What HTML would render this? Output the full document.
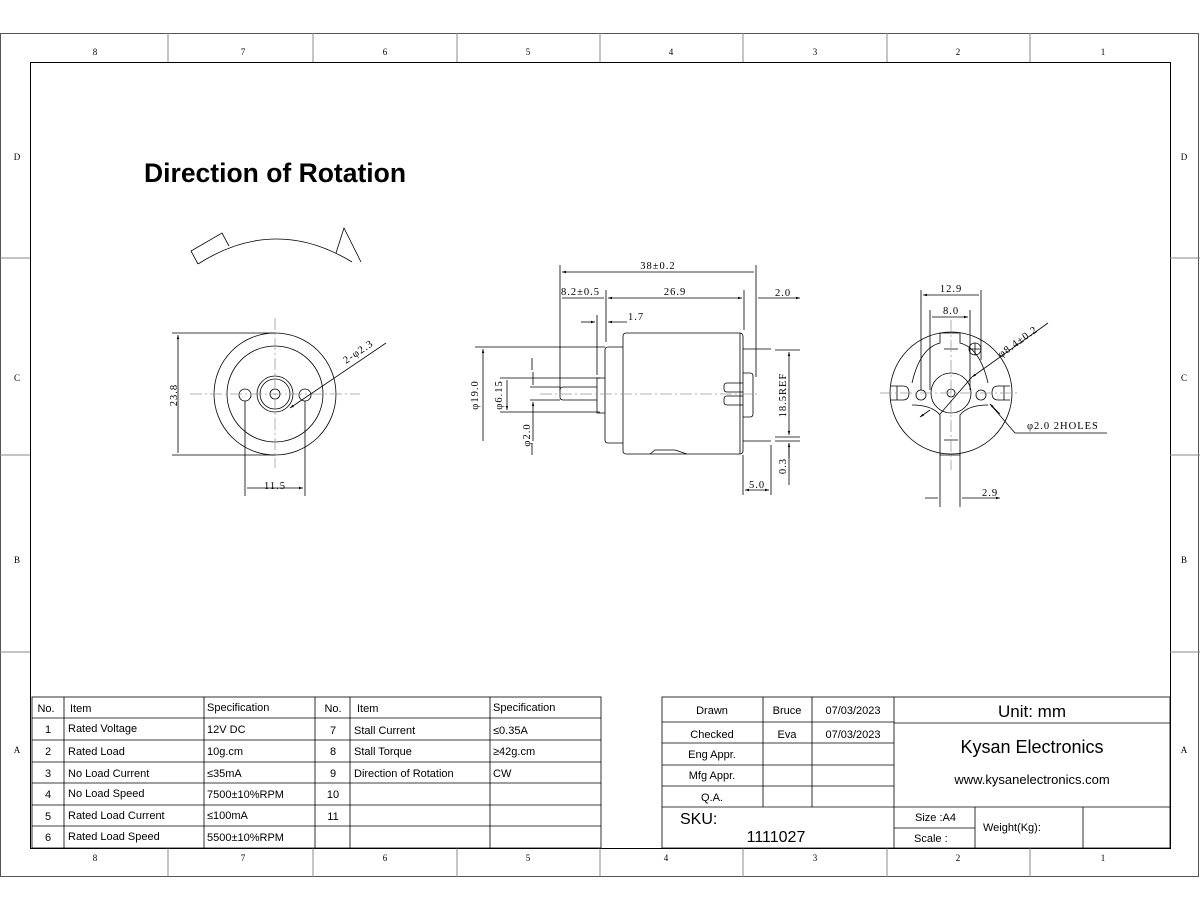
<!DOCTYPE html>
<html><head><meta charset="utf-8"><style>
body{margin:0;background:#fff}
svg{display:block}
text{font-family:"Liberation Serif",serif;fill:#000}
.s{font-family:"Liberation Sans",sans-serif}
.d text{letter-spacing:1px}
</style></head><body>
<svg width="1200" height="910" viewBox="0 0 1200 910" xmlns="http://www.w3.org/2000/svg">
<defs><marker id="a" viewBox="0 0 10 10" refX="10" refY="5" markerWidth="8" markerHeight="5" orient="auto-start-reverse"><path d="M0,2 L10,5 L0,8z" fill="#000"/></marker></defs>
<g fill="none" stroke="#000" stroke-width="1">
<rect x="0.5" y="33.5" width="1198" height="843" stroke="#555"/>
<rect x="30.5" y="62.5" width="1140" height="786"/>
<g stroke="#888">
<path d="M168 33v29M313 33v29M457 33v29M600 33v29M743 33v29M887 33v29M1030 33v29"/>
<path d="M168 848v29M313 848v29M457 848v29M600 848v29M743 848v29M887 848v29M1030 848v29"/>
<path d="M0 258h30M0 455h30M0 652h30M1170 258h30M1170 455h30M1170 652h30"/>
</g>
</g>
<g font-size="9" fill="#777" text-anchor="middle">
<text x="95" y="55" fill="#777">8</text><text x="243" y="55" fill="#777">7</text><text x="385" y="55" fill="#777">6</text><text x="528" y="55" fill="#777">5</text><text x="671" y="55" fill="#777">4</text><text x="815" y="55" fill="#777">3</text><text x="958" y="55" fill="#777">2</text><text x="1103" y="55" fill="#777">1</text>
<text x="95" y="861" fill="#777">8</text><text x="243" y="861" fill="#777">7</text><text x="385" y="861" fill="#777">6</text><text x="528" y="861" fill="#777">5</text><text x="666" y="861" fill="#777">4</text><text x="815" y="861" fill="#777">3</text><text x="958" y="861" fill="#777">2</text><text x="1103" y="861" fill="#777">1</text>
<text x="17" y="160" fill="#777">D</text><text x="17" y="381" fill="#777">C</text><text x="17" y="563" fill="#777">B</text><text x="17" y="753" fill="#777">A</text>
<text x="1184" y="160" fill="#777">D</text><text x="1184" y="381" fill="#777">C</text><text x="1184" y="563" fill="#777">B</text><text x="1184" y="753" fill="#777">A</text>
</g>
<text x="144" y="182" class="s" font-size="26.5" font-weight="bold">Direction of Rotation</text>

<!-- left view -->
<g fill="none" stroke="#000" stroke-width="0.8">
<path d="M198 264 Q275 215 352 262"/>
<path d="M198 264 L191 251 L222 233 L229 246"/>
<path d="M336 253 L344 228 L361 262"/>
<circle cx="275" cy="394" r="61"/><circle cx="275" cy="394" r="48"/>
<circle cx="275" cy="394" r="18"/><circle cx="275" cy="394" r="15"/><circle cx="275" cy="394" r="5"/>
<circle cx="245" cy="395" r="6"/><circle cx="305" cy="395" r="6"/>
<path d="M275 318v150M190 394h170" stroke="#999" stroke-dasharray="12 3 2 3"/>
<path d="M172 333h103M172 455h103M245 401v95M305 401v95"/>
<path d="M178 335v118M247 488h56" marker-start="url(#a)" marker-end="url(#a)"/>
<path d="M386 343 L290 408" marker-end="url(#a)"/>
</g>
<g class="d" font-size="10.5">
<text x="177" y="395" transform="rotate(-90 177 395)" text-anchor="middle">23.8</text>
<text x="275" y="489" text-anchor="middle">11.5</text>
<text x="346" y="364" transform="rotate(-34 346 364)">2-φ2.3</text>
</g>

<!-- middle view -->
<g fill="none" stroke="#000" stroke-width="0.8">
<rect x="623" y="333" width="120" height="121" rx="3"/>
<path d="M740 333v121"/>
<path d="M623 347h-15q-3 0-3 3v90q0 3 3 3h15"/>
<path d="M605 378h-8v35h8"/>
<path d="M597 387h-34q-3 0-3 3v7q0 3 3 3h34"/>
<path d="M743 349h28M743 441h28"/>
<path d="M743 373h7q3 0 3 3v38q0 3-3 3h-7"/>
<path d="M743 383h-16q-3 0-3 3v3q0 3 3 3h16M743 396h-16q-3 0-3 3v3q0 3 3 3h16"/>
<path d="M650 454l5-4h20l12 4"/>
<path d="M540 394h220" stroke="#999" stroke-dasharray="12 3 2 3"/>
<path d="M560 265v126M606 290v52M597 315v60M744 290v40M756 265v112"/>
<path d="M562 272h192M562 298h42M758 298h42" marker-start="url(#a)" marker-end="url(#a)"/>
<path d="M608 298h134" marker-start="url(#a)" marker-end="url(#a)"/>
<path d="M581 322h14" marker-end="url(#a)"/><path d="M627 322h-19" marker-end="url(#a)"/>
<path d="M475 347h130M500 378h100M500 412h100M530 387h30M530 400h30M532 370v-12M532 455v-12"/>
<path d="M483 349v92M507 380v30" marker-start="url(#a)" marker-end="url(#a)"/>
<path d="M533 372v13M533 441v-39" marker-end="url(#a)"/>
<path d="M775 350h25M775 441h25M775 437h25M743 455v40M771 445v50"/>
<path d="M789 352v83" marker-start="url(#a)" marker-end="url(#a)"/>
<path d="M789 458v-15" marker-end="url(#a)"/>
<path d="M789 443v42"/>
<path d="M745 490h24" marker-start="url(#a)" marker-end="url(#a)"/>
</g>
<g class="d" font-size="10.5">
<text x="658" y="269" text-anchor="middle">38±0.2</text>
<text x="561" y="295">8.2±0.5</text>
<text x="675" y="295" text-anchor="middle">26.9</text>
<text x="775" y="296">2.0</text>
<text x="628" y="320">1.7</text>
<text x="478" y="395" transform="rotate(-90 478 395)" text-anchor="middle">φ19.0</text>
<text x="502" y="395" transform="rotate(-90 502 395)" text-anchor="middle">φ6.15</text>
<text x="530" y="435" transform="rotate(-90 530 435)" text-anchor="middle">φ2.0</text>
<text x="786" y="395" transform="rotate(-90 786 395)" text-anchor="middle">18.5REF</text>
<text x="786" y="466" transform="rotate(-90 786 466)" text-anchor="middle">0.3</text>
<text x="757" y="488" text-anchor="middle">5.0</text>
</g>

<!-- right view -->
<g fill="none" stroke="#000" stroke-width="0.8">
<circle cx="951" cy="393" r="61"/>
<circle cx="951" cy="393" r="20"/><circle cx="951" cy="393" r="4"/>
<circle cx="921" cy="395" r="5"/><circle cx="981" cy="395" r="5"/>
<circle cx="975" cy="349" r="6"/><path d="M975 343v12M969 349h12"/>
<path d="M912 383q8-35 28-40v-10h20v10q20 5 28 40"/>
<path d="M912 405q20 0 28 10v40h20v-40q8-10 28-10"/>
<path d="M944 349h14M944 440h14"/>
<path d="M895 386h8q6 0 6 7t-6 7h-8M1006 386h-8q-6 0-6 7t6 7h8M891 386h6v14h-6M1010 386h-6v14h6"/>
<path d="M940 455v52M960 455v52"/>
<path d="M880 393h140M951 320v150" stroke="#999" stroke-dasharray="12 3 2 3"/>
<path d="M921 290v100M981 290v70M930 310v80M970 310v80"/>
<path d="M923 295h56M932 317h36" marker-start="url(#a)" marker-end="url(#a)"/>
<path d="M1048 323 L972 377" marker-end="url(#a)"/><path d="M930 410 L920 417" marker-end="url(#a)"/>
<path d="M940 414L972 377"/>
<path d="M1107 433H1015L990 404"/><path d="M1000 414l-10-10" marker-end="url(#a)"/>
<path d="M925 498h13M975 498h-13M962 498h38" marker-end="url(#a)"/>
</g>
<g class="d" font-size="10.5">
<text x="951" y="292" text-anchor="middle">12.9</text>
<text x="951" y="314" text-anchor="middle">8.0</text>
<text x="1001" y="358" transform="rotate(-36 1001 358)">φ8.4±0.2</text>
<text x="1027" y="429">φ2.0 2HOLES</text>
<text x="990" y="496" text-anchor="middle">2.9</text>
</g>

<!-- left table -->
<g fill="none" stroke="#000" stroke-width="0.8">
<rect x="32" y="697" width="569" height="151"/>
<path d="M32 718h569M32 740h569M32 762h569M32 783h569M32 805h569M32 826h569"/>
<path d="M64 697v151M204 697v151M315 697v151M350 697v151M490 697v151"/>
</g>
<g class="s" font-size="11">
<g text-anchor="middle"><text x="46" y="712" class="s">No.</text><text x="48" y="733" class="s">1</text><text x="48" y="755" class="s">2</text><text x="48" y="777" class="s">3</text><text x="48" y="798" class="s">4</text><text x="48" y="820" class="s">5</text><text x="48" y="841" class="s">6</text>
<text x="333" y="712" class="s">No.</text><text x="333" y="734" class="s">7</text><text x="333" y="755" class="s">8</text><text x="333" y="777" class="s">9</text><text x="333" y="798" class="s">10</text><text x="333" y="820" class="s">11</text></g>
<text x="70" y="712" class="s">Item</text><text x="68" y="732" class="s">Rated Voltage</text><text x="68" y="755" class="s">Rated Load</text><text x="68" y="777" class="s">No Load Current</text><text x="68" y="797" class="s">No Load Speed</text><text x="68" y="819" class="s">Rated Load Current</text><text x="68" y="840" class="s">Rated Load Speed</text>
<text x="207" y="711" class="s">Specification</text><text x="207" y="733" class="s">12V DC</text><text x="207" y="755" class="s">10g.cm</text><text x="207" y="777" class="s">≤35mA</text><text x="207" y="798" class="s">7500±10%RPM</text><text x="207" y="819" class="s">≤100mA</text><text x="207" y="841" class="s">5500±10%RPM</text>
<text x="357" y="712" class="s">Item</text><text x="354" y="734" class="s">Stall Current</text><text x="354" y="755" class="s">Stall Torque</text><text x="354" y="777" class="s">Direction of Rotation</text>
<text x="493" y="711" class="s">Specification</text><text x="493" y="734" class="s">≤0.35A</text><text x="493" y="755" class="s">≥42g.cm</text><text x="493" y="777" class="s">CW</text>
</g>

<!-- right table -->
<g fill="none" stroke="#000" stroke-width="0.8">
<rect x="662" y="697" width="508" height="151"/>
<path d="M662 722h232M662 743h232M662 765h232M662 786h232M662 807h508"/>
<path d="M894 723h276"/>
<path d="M763 697v110M812 697v110M894 697v151M975 807v41M1083 807v41M894 828h81"/>
</g>
<g class="s" font-size="11" text-anchor="middle">
<text x="712" y="714" class="s">Drawn</text><text x="712" y="738" class="s">Checked</text><text x="712" y="758" class="s">Eng Appr.</text><text x="712" y="779" class="s">Mfg Appr.</text><text x="712" y="801" class="s">Q.A.</text>
<text x="787" y="714" class="s">Bruce</text><text x="787" y="738" class="s">Eva</text>
<text x="853" y="714" class="s">07/03/2023</text><text x="853" y="738" class="s">07/03/2023</text>
<text x="1032" y="717" class="s" font-size="17">Unit: mm</text>
<text x="1032" y="753" class="s" font-size="18">Kysan Electronics</text>
<text x="1032" y="784" class="s" font-size="13">www.kysanelectronics.com</text>
<text x="776" y="842" class="s" font-size="16">1111027</text>
</g>
<g class="s" font-size="11">
<text x="680" y="824" class="s" font-size="16">SKU:</text>
<text x="915" y="821" class="s">Size :A4</text><text x="914" y="842" class="s">Scale :</text>
<text x="983" y="831" class="s">Weight(Kg):</text>
</g>
</svg>
</body></html>
